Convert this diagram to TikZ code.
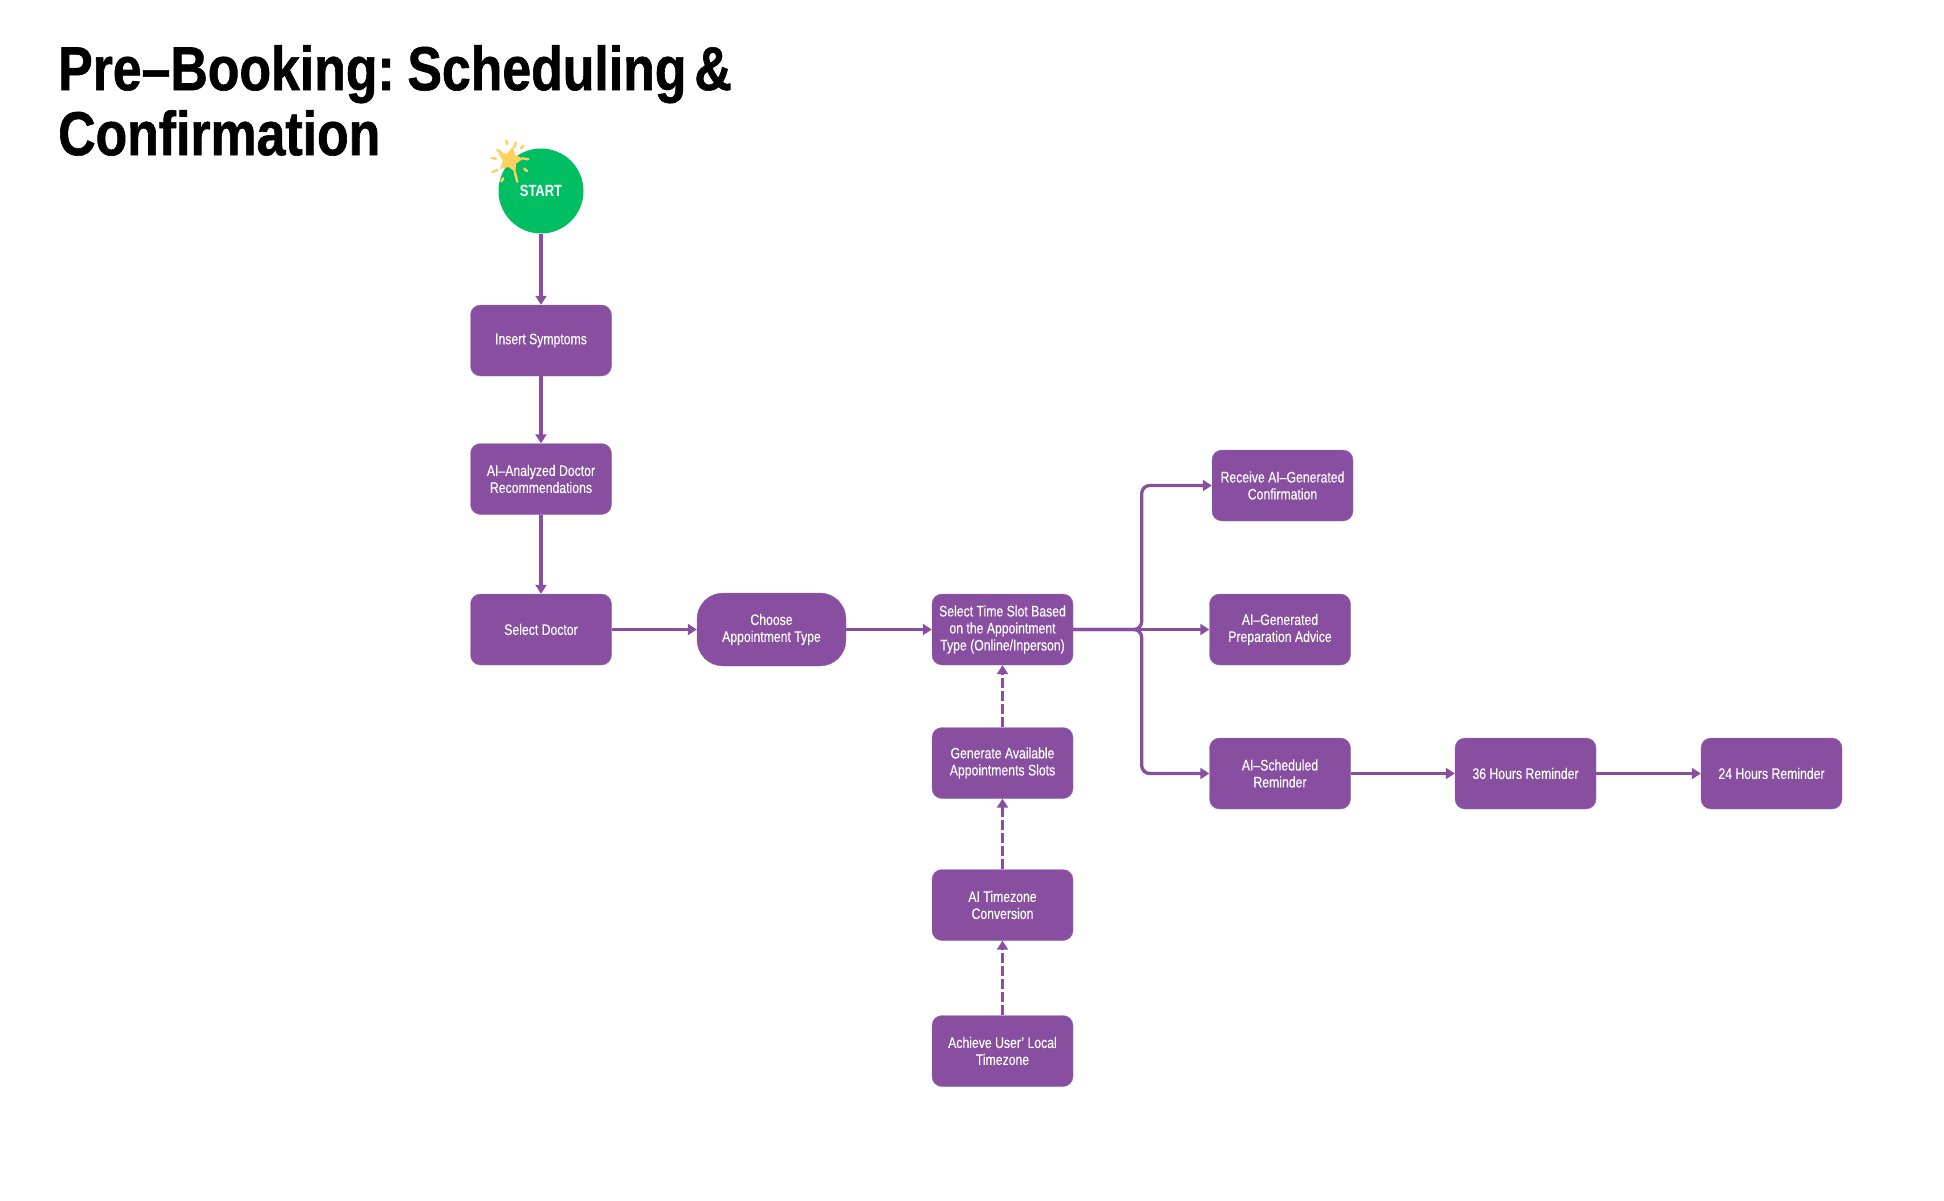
\documentclass[tikz,border=0pt]{standalone}
\usepackage{fontspec}
\setmainfont[FakeStretch=0.8,UprightFeatures={FakeBold=0.25}]{Liberation Sans}
\newfontfamily\titlefont[FakeStretch=0.835,WordSpace=0.55,BoldFeatures={FakeBold=1}]{Liberation Sans}
\usetikzlibrary{arrows.meta,shapes.geometric}
\definecolor{flowpurple}{HTML}{884EA0}
\definecolor{startgreen}{HTML}{00BF63}
\definecolor{stargold}{HTML}{FFD05C}
\tikzset{
  stepbox/.style = {draw = flowpurple!85!white, fill = flowpurple, rounded corners = 10pt,
    minimum width = 141pt, minimum height = 71pt, inner sep = 0pt, align = center,
    text = white, font = \fontsize{15.3}{17}\selectfont},
  typebox/.style = {stepbox, minimum width = 149pt, minimum height = 73pt, rounded corners = 26pt},
  flow/.style = {draw = flowpurple, line width = 3.3pt, -{Triangle[length = 9pt, width = 11pt]}},
  feed/.style = {flow, dash pattern = on 10pt off 3pt},
  ray/.style = {draw = stargold, line width = 2.4pt, line cap = round}
}
\begin{document}
\begin{tikzpicture}[x = 1pt, y = -1pt]
  \useasboundingbox (0,0) rectangle (1944,1201);
  \node[anchor = north west, inner sep = 0pt, align = left,
    font = \titlefont\fontsize{62}{65}\selectfont\bfseries] (title) at (58,45)
    {Pre–Booking: Scheduling \&\\Confirmation};

  \node[circle, fill = startgreen, minimum size = 85pt, inner sep = 0pt, text = white,
    font = \fontsize{16.2}{20}\selectfont\bfseries] (start) at (541,191) {START};
  \coordinate (spark) at (510,160);
  \foreach \xa/\ya/\xb/\yb in {-12.7/-10/-8/-6.7, -18.3/-2/-14/-1.3, -17.7/12.3/-12.7/10, -8.7/21.3/-6.7/18.3,
      4.7/12/7.3/21.7, 14.3/8.7/17/11, 12.7/-1.7/18.3/-0.7, 11/-11.7/13.3/-14.3, 4.3/-12.3/5.7/-17.7, -3.7/-19.3/-2.7/-16}
    \draw[ray] ([shift = {(\xa,\ya)}]spark) -- ([shift = {(\xb,\yb)}]spark);
  \node[star, star points = 5, star point ratio = 1.9, fill = stargold, rotate = -12,
    minimum size = 27pt, inner sep = 0pt] (sparkstar) at (spark) {};

  \node[stepbox, node distance = 149.5pt, below of = start] (symptoms) {Insert Symptoms};
  \node[stepbox, node distance = 138.5pt, below of = symptoms] (analyzed) {AI--Analyzed Doctor\\Recommendations};
  \node[stepbox, node distance = 150.5pt, below of = analyzed] (doctor) {Select Doctor};
  \node[typebox, node distance = 230.5pt, right of = doctor] (apptype) {Choose\\Appointment Type};
  \node[stepbox, node distance = 231pt, right of = apptype] (slot)
    {Select Time Slot Based\\on the Appointment\\Type (Online/Inperson)};
  \node[stepbox, node distance = 133.5pt, below of = slot] (generate) {Generate Available\\Appointments Slots};
  \node[stepbox, node distance = 142pt, below of = generate] (convert) {AI Timezone\\Conversion};
  \node[stepbox, node distance = 146pt, below of = convert] (local) {Achieve User' Local\\Timezone};
  \node[stepbox, node distance = 277.5pt, right of = slot] (advice) {AI--Generated\\Preparation Advice};
  \node[stepbox, node distance = 144pt, above of = advice, xshift = 2.5pt] (confirm) {Receive AI--Generated\\Confirmation};
  \node[stepbox, node distance = 144pt, below of = advice] (reminder) {AI--Scheduled\\Reminder};
  \node[stepbox, node distance = 245.5pt, right of = reminder] (hours36) {36 Hours Reminder};
  \node[stepbox, node distance = 246pt, right of = hours36] (hours24) {24 Hours Reminder};

  \coordinate (branch) at ([xshift = 68.5pt]slot.east);

  \draw[flow] (start) -- (symptoms);
  \draw[flow] (symptoms) -- (analyzed);
  \draw[flow] (analyzed) -- (doctor);
  \draw[flow] (doctor) -- (apptype);
  \draw[flow] (apptype) -- (slot);
  \draw[flow] (slot) -- (advice);
  \draw[flow, rounded corners = 8pt] (slot.east) -- (branch) |- (confirm.west);
  \draw[flow, rounded corners = 8pt] (slot.east) -- (branch) |- (reminder.west);
  \draw[flow] (reminder) -- (hours36);
  \draw[flow] (hours36) -- (hours24);
  \draw[feed] (generate) -- (slot);
  \draw[feed] (convert) -- (generate);
  \draw[feed] (local) -- (convert);
\end{tikzpicture}
\end{document}
